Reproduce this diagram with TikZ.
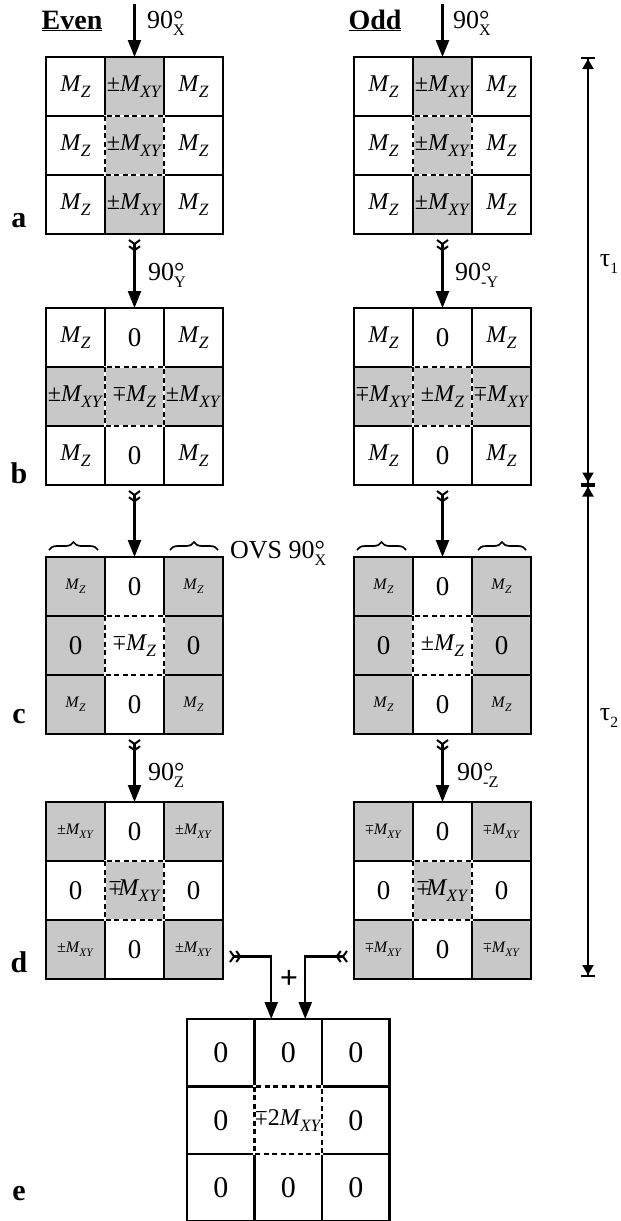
\documentclass[tikz,border=0pt]{standalone}
\usepackage{fontspec}
\setmainfont{Liberation Serif}
\usetikzlibrary{arrows.meta,decorations.pathreplacing}
\definecolor{cellgray}{RGB}{200,200,200}
\newsavebox\pmbox
\newcommand\mpm{\sbox\pmbox{±}\raisebox{\ht\pmbox}{\scalebox{1}[-1]{\usebox\pmbox}}}
\newcommand\Mv[1]{\textit{M}\kern-0.03em\raisebox{-0.26em}{\scalebox{0.72}{\textit{#1}}}}
\newcommand\MZ{\Mv{Z}}
\newcommand\MXY{\Mv{XY}}
\newcommand\zr{{\fontsize{27}{27}\selectfont 0}}
\newcommand\zre{{\fontsize{30}{30}\selectfont 0}}
\newcommand\sml[1]{{\fontsize{16}{16}\selectfont #1}}
\newcommand\ang[1]{90\rlap{°}\raisebox{-0.3em}{\scalebox{0.62}{#1}}}
\def\cs{59}
\newcommand\gridrow[8]{%
  \node[cell,fill=#3] (#1-#2-1) at ({\gx+0.5*\cs},{\gy+(#2-0.5)*\cs}) {#4};
  \node[cell,fill=#5] (#1-#2-2) at ({\gx+1.5*\cs},{\gy+(#2-0.5)*\cs}) {#6};
  \node[cell,fill=#7] (#1-#2-3) at ({\gx+2.5*\cs},{\gy+(#2-0.5)*\cs}) {#8};}
\newcommand\dashc[1]{%
  \draw[white,line width=2.2pt] (#1.north west) rectangle (#1.south east);
  \draw[line width=2.2pt,dash pattern=on 5pt off 3.5pt] (#1.north west) rectangle (#1.south east);}
\tikzset{
  cell/.style={draw, line width=2.2pt, minimum size=\cs pt, inner sep=0pt, outer sep=0pt,
    font=\fontsize{24}{26}\selectfont},
  flow/.style={line width=2.4pt, -{Triangle[length=17pt,width=13pt]}},
  chev/.style={line width=2.4pt, {Straight Barb[reversed,length=4pt,width=11pt,line width=2pt]Straight Barb[reversed,length=4pt,width=11pt,line width=2pt]}-{Triangle[length=17pt,width=13pt]}},
  tau/.style={line width=2pt, {Bar[width=14pt]Triangle[length=10pt,width=11pt]}-{Triangle[length=10pt,width=11pt]Bar[width=14pt]}},
  anglab/.style={font=\fontsize{26}{28}\selectfont, inner sep=0pt, anchor=base west},
  letter/.style={font=\bfseries\fontsize{30}{30}\selectfont, inner sep=0pt, anchor=base},
  head/.style={font=\bfseries\fontsize{28}{30}\selectfont, inner sep=0pt, anchor=base},
  tilde/.style={decorate, decoration={brace, amplitude=8pt, aspect=0.5}, line width=1.7pt},
}
\begin{document}
\begin{tikzpicture}[x=1pt,y=-1pt]
\useasboundingbox (0,0) rectangle (621,1221);
\fill[white] (0,0) rectangle (621,1221);

% ---- a
\def\gy{57}
\def\gx{46}
\gridrow{aE}{1}{white}{\MZ}{cellgray}{±\MXY}{white}{\MZ}
\gridrow{aE}{2}{white}{\MZ}{cellgray}{±\MXY}{white}{\MZ}
\gridrow{aE}{3}{white}{\MZ}{cellgray}{±\MXY}{white}{\MZ}
\dashc{aE-2-2}
\def\gx{354}
\gridrow{aO}{1}{white}{\MZ}{cellgray}{±\MXY}{white}{\MZ}
\gridrow{aO}{2}{white}{\MZ}{cellgray}{±\MXY}{white}{\MZ}
\gridrow{aO}{3}{white}{\MZ}{cellgray}{±\MXY}{white}{\MZ}
\dashc{aO-2-2}

% ---- b
\def\gy{308}
\def\gx{46}
\gridrow{bE}{1}{white}{\MZ}{white}{\zr}{white}{\MZ}
\gridrow{bE}{2}{cellgray}{±\MXY}{cellgray}{\mpm\MZ}{cellgray}{±\MXY}
\gridrow{bE}{3}{white}{\MZ}{white}{\zr}{white}{\MZ}
\dashc{bE-2-2}
\def\gx{354}
\gridrow{bO}{1}{white}{\MZ}{white}{\zr}{white}{\MZ}
\gridrow{bO}{2}{cellgray}{\mpm\MXY}{cellgray}{±\MZ}{cellgray}{\mpm\MXY}
\gridrow{bO}{3}{white}{\MZ}{white}{\zr}{white}{\MZ}
\dashc{bO-2-2}

% ---- c
\def\gy{557}
\def\gx{46}
\gridrow{cE}{1}{cellgray}{\sml{\MZ}}{white}{\zr}{cellgray}{\sml{\MZ}}
\gridrow{cE}{2}{cellgray}{\zr}{white}{\mpm\MZ}{cellgray}{\zr}
\gridrow{cE}{3}{cellgray}{\sml{\MZ}}{white}{\zr}{cellgray}{\sml{\MZ}}
\dashc{cE-2-2}
\def\gx{354}
\gridrow{cO}{1}{cellgray}{\sml{\MZ}}{white}{\zr}{cellgray}{\sml{\MZ}}
\gridrow{cO}{2}{cellgray}{\zr}{white}{±\MZ}{cellgray}{\zr}
\gridrow{cO}{3}{cellgray}{\sml{\MZ}}{white}{\zr}{cellgray}{\sml{\MZ}}
\dashc{cO-2-2}

% ---- d
\def\gy{802}
\def\gx{46}
\gridrow{dE}{1}{cellgray}{\sml{±\MXY}}{white}{\zr}{cellgray}{\sml{±\MXY}}
\gridrow{dE}{2}{white}{\zr}{cellgray}{\mpm\kern-0.14em\MXY}{white}{\zr}
\gridrow{dE}{3}{cellgray}{\sml{±\MXY}}{white}{\zr}{cellgray}{\sml{±\MXY}}
\dashc{dE-2-2}
\def\gx{354}
\gridrow{dO}{1}{cellgray}{\sml{\mpm\MXY}}{white}{\zr}{cellgray}{\sml{\mpm\MXY}}
\gridrow{dO}{2}{white}{\zr}{cellgray}{\mpm\kern-0.14em\MXY}{white}{\zr}
\gridrow{dO}{3}{cellgray}{\sml{\mpm\MXY}}{white}{\zr}{cellgray}{\sml{\mpm\MXY}}
\dashc{dO-2-2}

% ---- e
\def\cs{67.5}
\def\gy{1019}
\def\gx{187}
\gridrow{eG}{1}{white}{\zre}{white}{\zre}{white}{\zre}
\gridrow{eG}{2}{white}{\zre}{white}{\mpm2\MXY}{white}{\zre}
\gridrow{eG}{3}{white}{\zre}{white}{\zre}{white}{\zre}
\dashc{eG-2-2}

% ---- headings
\node[head] (even) at (72,29) {\underline{Even}};
\node[head] (odd) at (375,29) {\underline{Odd}};

% ---- arrows
\coordinate (topE) at (134.5,4);
\coordinate (topO) at (442.5,4);
\draw[flow] (topE) -- (aE-1-2.north);
\draw[flow] (topO) -- (aO-1-2.north);
\draw[chev] ([shift={(0,5)}]aE-3-2.south) -- (bE-1-2.north);
\draw[chev] ([shift={(0,5)}]aO-3-2.south) -- (bO-1-2.north);
\draw[chev] ([shift={(0,5)}]bE-3-2.south) -- (cE-1-2.north);
\draw[chev] ([shift={(0,5)}]bO-3-2.south) -- (cO-1-2.north);
\draw[chev] ([shift={(0,5)}]cE-3-2.south) -- (dE-1-2.north);
\draw[chev] ([shift={(0,5)}]cO-3-2.south) -- (dO-1-2.north);
\draw[chev] ([shift={(6,7)}]dE-3-3.east) -| ([shift={(-17,0)}]eG-1-2.north);
\draw[chev] ([shift={(-6,7)}]dO-3-1.west) -| ([shift={(17,0)}]eG-1-2.north);
\node[font=\bfseries\fontsize{32}{32}\selectfont, inner sep=0pt] (plus) at (289,979) {+};

% ---- angle labels
\node[anglab] (l1) at (147,28) {\ang{X}};
\node[anglab] (l2) at (453,28) {\ang{X}};
\node[anglab] (l3) at (148,280) {\ang{Y}};
\node[anglab] (l4) at (455,280) {\ang{-Y}};
\node[anglab] (l5) at (230,558) {OVS \ang{X}};
\node[anglab] (l6) at (148,780) {\ang{Z}};
\node[anglab] (l7) at (457,780) {\ang{-Z}};

% ---- braces
\foreach \g in {cE,cO}{
  \draw[tilde] ([shift={(3,-7)}]\g-1-1.north west) -- ([shift={(-7,-7)}]\g-1-1.north east);
  \draw[tilde] ([shift={(6,-7)}]\g-1-3.north west) -- ([shift={(-5,-7)}]\g-1-3.north east);
}

% ---- letters
\node[letter] (la) at (19,227) {a};
\node[letter] (lb) at (19,483) {b};
\node[letter] (lc) at (19,723) {c};
\node[letter] (ld) at (19,972) {d};
\node[letter] (le) at (19,1200) {e};

% ---- tau
\coordinate (t0) at (588,57);
\coordinate (t1) at (588,484.5);
\coordinate (t2) at (588,977);
\draw[tau] (t0) -- (t1);
\draw[tau] (t1) -- (t2);
\node[font=\fontsize{26}{26}\selectfont, inner sep=0pt] (tau1) at (609,264) {τ\raisebox{-0.3em}{\scalebox{0.6}{1}}};
\node[font=\fontsize{26}{26}\selectfont, inner sep=0pt] (tau2) at (609,718) {τ\raisebox{-0.3em}{\scalebox{0.6}{2}}};
\end{tikzpicture}
\end{document}
